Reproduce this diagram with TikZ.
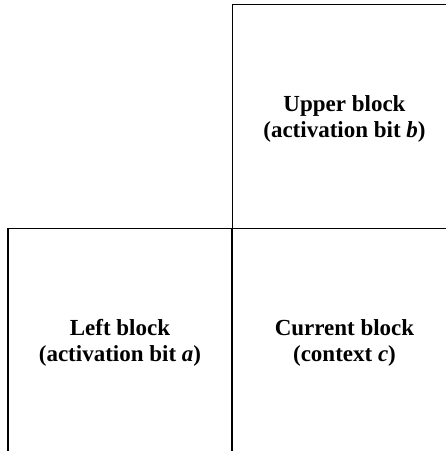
\documentclass[tikz,border=0pt]{standalone}
\usepackage{fontspec}
\setmainfont{Liberation Serif}
\begin{document}
\begin{tikzpicture}[x=1pt,y=1pt,
  blockbox/.style={draw=black, line width=1.3pt, rectangle,
    minimum width=224pt, minimum height=224pt, inner sep=0pt},
  blocktext/.style={align=center, inner sep=0pt,
    font=\fontsize{23}{26}\selectfont\bfseries}]
  \useasboundingbox (0,0) rectangle (446,451);
  \clip (0,0) rectangle (446,451);
  % three neighbouring blocks of equal size
  \node[blockbox] (upper) at (344.5,334.5) {};
  \node[blockbox] (left) at (120,110.5) {};
  \node[blockbox] (current) at (344.5,110.5) {};
  % block captions
  \node[blocktext] (uppertext) at ([yshift=-2.5pt]upper.center) {Upper block\\(activation bit \textit{b})};
  \node[blocktext] (lefttext) at ([yshift=-2pt]left.center) {Left block\\(activation bit \textit{a})};
  \node[blocktext] (currenttext) at ([yshift=-2pt]current.center) {Current block\\(context \textit{c})};
\end{tikzpicture}
\end{document}
